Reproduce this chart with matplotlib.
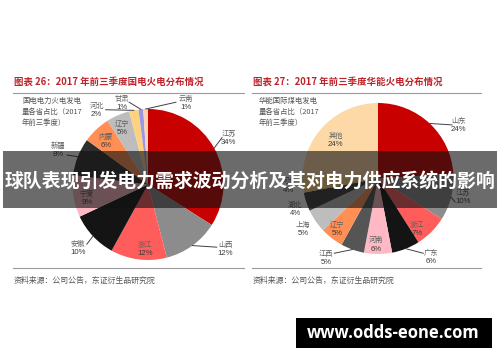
import numpy as np
import matplotlib
matplotlib.use("Agg")
import matplotlib.pyplot as plt
from matplotlib.patches import Rectangle

plt.rcParams['font.family'] = ['Noto Sans CJK SC', 'DejaVu Sans']

# data
gd_names = ['江苏', '山西', '浙江', '安徽', '宁夏', '新疆', '内蒙', '辽宁', '河北', '甘肃', '云南']
gd_share = [34, 12, 12, 10, 9, 8, 6, 5, 2, 1, 1]
hn_names = ['山东', '江苏', '浙江', '广东', '河南', '江西', '辽宁', '上海', '湖北', '河北', '其他']
hn_share = [24, 10, 7, 6, 6, 5, 5, 5, 4, 4, 24]

gd_title = '图表 26：2017 年前三季度国电火电分布情况'
hn_title = '图表 27：2017 年前三季度华能火电分布情况'
gd_desc = '国电电力火电发电\n量各省占比（2017\n年前三季度）'
hn_desc = '华能国际煤电发电\n量各省占比（2017\n年前三季度）'
source = '资料来源：公司公告，东证衍生品研究院'
banner = '球队表现引发电力需求波动分析及其对电力供应系统的影响'
watermark = 'www.odds-eone.com'

# styles / layout
gd_colors = ['#C80000', '#8C8C8C', '#FF5C5C', '#141414', '#FFB9C4', '#2E2E2E',
             '#FF8F55', '#BDBDBD', '#FFD27F', '#9A98E0', '#FCD3B4']
hn_colors = ['#C80000', '#8C8C8C', '#FF5C5C', '#141414', '#FFB9C4', '#555555',
             '#FF8F55', '#BDBDBD', '#3C3C3C', '#FFD27F', '#FDD9A8']

# label centres (pie units) and leader-line ends (None = no leader)
gd_lab = [(1.07, 0.62), (1.02, -0.85), (-0.04, -0.85), (-0.93, -0.84), (-0.81, -0.18),
          (-1.19, 0.46), (-0.56, 0.58), (-0.34, 0.75), (-0.68, 0.99), (-0.34, 1.08), (0.50, 1.08)]
gd_lead = [(0.98, 0.62), (0.91, -0.83), None, (-0.81, -0.79), None,
           (-1.07, 0.39), None, None, (-0.56, 0.99), (-0.25, 1.09), (0.37, 1.09)]
hn_lab = [(1.07, 0.71), (1.13, -0.245), (0.52, -0.67), (0.70, -1.04), (-0.03, -0.87),
          (-0.69, -1.05), (-0.54, -0.67), (-0.99, -0.67), (-1.10, -0.40), (-1.18, -0.09), (-0.56, 0.51)]
hn_lead = [(0.98, 0.71), (1.02, -0.31), None, (0.60, -0.99), None,
           (-0.58, -0.99), None, None, None, None, None]

W, H = 500, 362
R_PX = 75.5
BOX = 100

fig = plt.figure(figsize=(5, 3.62), dpi=100)
fig.patch.set_facecolor('white')

bg = fig.add_axes([0, 0, 1, 1])
bg.set_xlim(0, W)
bg.set_ylim(H, 0)
bg.axis('off')


def draw_pie(cx, cy, values, names, colors, labs, leads):
    ax = fig.add_axes([(cx - BOX) / W, (H - cy - BOX) / H, 2 * BOX / W, 2 * BOX / H])
    ax.pie(values, colors=colors, startangle=90, counterclock=False, radius=1,
           wedgeprops=dict(linewidth=0))
    lim = BOX / R_PX
    ax.set_xlim(-lim, lim)
    ax.set_ylim(-lim, lim)
    ax.axis('off')
    total = float(sum(values))
    cum = np.cumsum([0] + list(values))
    for i, (n, v) in enumerate(zip(names, values)):
        mid = np.deg2rad(90 - 360 * (cum[i] + v / 2) / total)
        lx, ly = labs[i]
        if leads[i] is not None:
            ex, ey = leads[i]
            ax.plot([np.cos(mid), ex], [np.sin(mid), ey], color='#404040', lw=0.7)
        ax.text(lx, ly + 0.055, n, ha='center', va='center', fontsize=5.2, color='#606060')
        ax.text(lx, ly - 0.065, f'{v}%', ha='center', va='center', fontsize=5.6,
                color='#3A3A3A', family=['Liberation Sans', 'DejaVu Sans'])
    return ax


# headers, rules, footers
for x0, x1, title, desc in [(13, 244, gd_title, gd_desc), (252, 481, hn_title, hn_desc)]:
    bg.text(x0 + 1, 82, title, ha='left', va='center', fontsize=6.8, fontweight='bold',
            color='#C0222A')
    bg.plot([x0, x1], [92.5, 92.5], color='#9A9A9A', lw=0.8)
    bg.text(x0 + 9 if x0 < 100 else x0 + 7, 112, desc, ha='left', va='center', fontsize=5.3,
            color='#555555', linespacing=1.55)
    bg.plot([x0, x1], [268, 268], color='#9A9A9A', lw=0.8)
    bg.text(x0 + 1, 280, source, ha='left', va='center', fontsize=5.7, color='#555555')

draw_pie(148, 184.5, gd_share, gd_names, gd_colors, gd_lab, gd_lead)
draw_pie(378, 178.5, hn_share, hn_names, hn_colors, hn_lab, hn_lead)

# overlay banner and watermark
ov = fig.add_axes([0, 0, 1, 1], zorder=10)
ov.set_xlim(0, W)
ov.set_ylim(H, 0)
ov.axis('off')
ov.patch.set_alpha(0)
ov.add_patch(Rectangle((3, 151), 494, 57, facecolor='#111111', alpha=0.62, lw=0))
ov.text(250, 182, banner, ha='center', va='center', fontsize=13.6, fontweight='bold',
        color='white')
ov.add_patch(Rectangle((296, 318), 196, 30, facecolor='black', lw=0))
ov.text(393, 333, watermark, ha='center', va='center', fontsize=12, fontweight='bold',
        color='white', family=['Open Sans', 'DejaVu Sans'])

fig.savefig('out.png', dpi=100, facecolor='white')
